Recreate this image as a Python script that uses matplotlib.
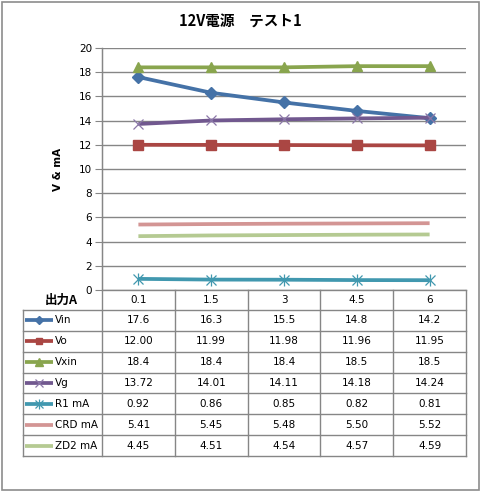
import matplotlib
matplotlib.use("Agg")
import matplotlib.pyplot as plt
from matplotlib.lines import Line2D
from matplotlib.patches import Rectangle

plt.rcParams['font.family'] = ['DejaVu Sans', 'Noto Sans CJK JP']

title = "12V電源　テスト1"
ylabel = "V & mA"
xhead = "出力A"
categories = ["0.1", "1.5", "3", "4.5", "6"]
series_names = ["Vin", "Vo", "Vxin", "Vg", "R1 mA", "CRD mA", "ZD2 mA"]
vin = [17.6, 16.3, 15.5, 14.8, 14.2]
vo = [12.00, 11.99, 11.98, 11.96, 11.95]
vxin = [18.4, 18.4, 18.4, 18.5, 18.5]
vg = [13.72, 14.01, 14.11, 14.18, 14.24]
r1 = [0.92, 0.86, 0.85, 0.82, 0.81]
crd = [5.41, 5.45, 5.48, 5.50, 5.52]
zd2 = [4.45, 4.51, 4.54, 4.57, 4.59]
table_text = [
    ["17.6", "16.3", "15.5", "14.8", "14.2"],
    ["12.00", "11.99", "11.98", "11.96", "11.95"],
    ["18.4", "18.4", "18.4", "18.5", "18.5"],
    ["13.72", "14.01", "14.11", "14.18", "14.24"],
    ["0.92", "0.86", "0.85", "0.82", "0.81"],
    ["5.41", "5.45", "5.48", "5.50", "5.52"],
    ["4.45", "4.51", "4.54", "4.57", "4.59"],
]
yticks = [0, 2, 4, 6, 8, 10, 12, 14, 16, 18, 20]

W, H = 481, 493
fig = plt.figure(figsize=(W / 100, H / 100), dpi=100)

def P(x, y):
    return (x / W, 1 - y / H)

L, R, T, B = 102, 466, 48, 290
ax = fig.add_axes([L / W, 1 - B / H, (R - L) / W, (B - T) / H])

colors = ["#4572A7", "#AA4643", "#89A54E", "#71588F", "#4198AF", "#D39594", "#B5CA92"]
series = [vin, vo, vxin, vg, r1, crd, zd2]
styles = [
    dict(marker='D', ms=6, mec=colors[0], mfc=colors[0]),
    dict(marker='s', ms=6.5, mec=colors[1], mfc=colors[1]),
    dict(marker='^', ms=7, mec=colors[2], mfc=colors[2]),
    dict(marker='x', ms=7, mec="#8B77A8", mew=0.9),
    dict(marker='x', ms=7, mec=colors[4], mew=0.9),
    dict(marker='None'),
    dict(marker='None'),
]
xs = list(range(len(categories)))
for vals, c, st in zip(series, colors, styles):
    ax.plot(xs, vals, color=c, lw=2.7, solid_capstyle='butt', **st)
ax.plot(xs, r1, color=colors[4], lw=0, marker='|', ms=8, mew=0.9)

ax.set_xlim(-0.5, len(categories) - 0.5)
ax.set_ylim(0, 20)
ax.set_yticks(yticks)
ax.set_yticklabels([str(v) for v in yticks], fontsize=7.5)
ax.yaxis.grid(True, color="#868686", lw=1)
ax.set_axisbelow(True)
ax.set_xticks([])
for s in ['top', 'right', 'bottom']:
    ax.spines[s].set_visible(False)
ax.spines['left'].set_color("#868686")
ax.tick_params(axis='y', direction='out', length=5, color="#868686", pad=2)

gc = "#868686"
def hline(y, x0, x1):
    fig.add_artist(Line2D([x0 / W, x1 / W], [1 - y / H, 1 - y / H], color=gc, lw=1))
def vline(x, y0, y1):
    fig.add_artist(Line2D([x / W, x / W], [1 - y0 / H, 1 - y1 / H], color=gc, lw=1))

# outer border
fig.add_artist(Rectangle(P(2, 490), (477) / W, (488) / H, fill=False, ec="#8C8C8C", lw=1.2))

colw = (R - L) / len(categories)
hdr_top, hdr_bot = 290, 310
rowh = (456 - 310) / len(series_names)
tbl_bot = hdr_bot + rowh * len(series_names)

hline(hdr_top, L, R)
hline(hdr_bot, 22.5, R)
for i in range(len(series_names)):
    hline(hdr_bot + rowh * (i + 1), 22.5, R)
vline(22.5, hdr_bot, tbl_bot)
vline(L, T, tbl_bot)
for j in range(1, len(categories) + 1):
    vline(L + colw * j, hdr_top, tbl_bot)

for j, c in enumerate(categories):
    fig.text(*P(L + colw * (j + 0.5), (hdr_top + hdr_bot) / 2), c,
             ha='center', va='center', fontsize=7.5)
fig.text(*P(61, 300), xhead, ha='center', va='center', fontsize=9, fontweight='bold',
         family=['Noto Sans CJK JP', 'DejaVu Sans'])

legend_ms = [4.5, 5, 5.5, 6, 6, 0, 0]
for i, name in enumerate(series_names):
    yc = hdr_bot + rowh * (i + 0.5)
    st = dict(styles[i])
    fig.add_artist(Line2D([25 / W, 53 / W], [1 - yc / H, 1 - yc / H], color=colors[i],
                          lw=2.7, solid_capstyle='butt'))
    if st.get('marker', 'None') != 'None':
        st['ms'] = legend_ms[i]
        fig.add_artist(Line2D([39 / W], [1 - yc / H], color=colors[i], lw=0, **st))
    if i == 4:
        fig.add_artist(Line2D([39 / W], [1 - yc / H], color=colors[i], lw=0, marker='|', ms=7, mew=0.9))
    fig.text(*P(55, yc), name, ha='left', va='center', fontsize=7.5)
    for j, t in enumerate(table_text[i]):
        fig.text(*P(L + colw * (j + 0.5), yc), t, ha='center', va='center', fontsize=7.5)

fig.text(*P(240, 22), title, ha='center', va='center', fontsize=10.5, fontweight='bold',
         family=['Noto Sans CJK JP', 'DejaVu Sans'])
fig.text(*P(58, 169), ylabel, ha='center', va='center', fontsize=7.5, fontweight='bold',
         rotation=90)

fig.savefig("out.png", dpi=100)
